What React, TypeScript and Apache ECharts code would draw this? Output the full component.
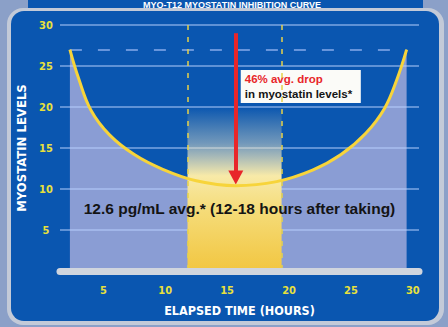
import React, { useEffect, useRef } from "react";
import * as echarts from "echarts";

const timeHours = [2.3, 3.0, 4.0, 5.5, 7.5, 9.8, 12.5, 15.7, 19.0, 21.9, 24.2, 26.2, 27.7, 28.7, 29.5];
const levels = [27, 23.5, 19.6, 16.6, 14.2, 12.4, 11.0, 10.4, 10.9, 12.3, 14.2, 16.8, 19.8, 23.3, 27];
const xTicks = [5, 10, 15, 20, 25, 30];
const yTicks = [5, 10, 15, 20, 25, 30];
const peakLevel = 27;
const windowStart = 11.8;
const windowEnd = 19.4;
const arrowX = 15.7;
const arrowTop = 29;
const arrowBottom = 11.4;
const boxX = [16.1, 25.8];
const boxY = [24.5, 20.5];
const avgLabelPos = [16.0, 7.6];

const NARROW = '"DejaVu Sans Condensed", "Liberation Sans Narrow", "Liberation Sans", sans-serif';
const SANS = '"Liberation Sans", Arial, sans-serif';

export default function App() {
  const ref = useRef<HTMLDivElement>(null);
  useEffect(() => {
    if (!ref.current) return;
    const chart = echarts.init(ref.current, null, { renderer: "svg" });
    const curve = timeHours.map((t, i) => [t, levels[i]]);
    const smooth = 0.4;
    chart.setOption({
      animation: false,
      backgroundColor: "#8ba0c8",
      graphic: [
        { type: "rect", shape: { x: 28, y: 0, width: 395, height: 10 }, style: { fill: "#0a56b0" }, z: -10 },
        {
          type: "text", x: 232, y: 0, z: -9,
          style: { text: "MYO-T12 MYOSTATIN INHIBITION CURVE", fill: "#ffffff", font: `bold 9px ${SANS}`, align: "center", verticalAlign: "top" },
        },
        { type: "rect", shape: { x: 7, y: 8, width: 437, height: 317, r: 16 }, style: { fill: "#c3cad8" }, z: -8 },
        { type: "rect", shape: { x: 11, y: 11, width: 428, height: 310, r: 13 }, style: { fill: "#0a56b0" }, z: -7 },
      ],
      grid: { left: 60, right: 29, top: 25, bottom: 56 },
      xAxis: {
        type: "value", min: 1.5, max: 30.5, z: 6,
        name: "ELAPSED TIME (HOURS)", nameLocation: "middle", nameGap: 33,
        nameTextStyle: { color: "#ffffff", fontFamily: NARROW, fontWeight: "bold", fontSize: 12.5 },
        axisLine: { show: true, onZero: false, lineStyle: { color: "#d0d5de", width: 7 } },
        axisTick: { show: false },
        splitLine: { show: false },
        axisLabel: { customValues: xTicks, color: "#e8e03c", fontFamily: NARROW, fontWeight: "bold", fontSize: 11, margin: 14 },
      },
      yAxis: {
        type: "value", min: 0, max: 30, interval: 5, z: 3,
        name: "MYOSTATIN LEVELS", nameLocation: "middle", nameGap: 20, nameRotate: 90,
        nameTextStyle: { color: "#ffffff", fontFamily: NARROW, fontWeight: "bold", fontSize: 13 },
        axisLine: { show: false },
        axisTick: { show: false },
        splitLine: { lineStyle: { color: "rgba(185,210,255,0.65)", width: 1.5 } },
        axisLabel: { customValues: yTicks, color: "#e8e03c", fontFamily: NARROW, fontWeight: "bold", fontSize: 11, margin: 14, align: "center" },
      },
      series: [
        {
          type: "line", z: 2, data: curve, smooth, symbol: "none",
          lineStyle: { width: 0 },
          areaStyle: { color: "#8a9dd4", opacity: 1 },
        },
        {
          type: "line", z: 4, data: curve, smooth, symbol: "none",
          lineStyle: { width: 0, opacity: 0 },
          markArea: {
            silent: true, z: 4,
            data: [
              [
                {
                  coord: [windowStart, 20],
                  itemStyle: {
                    color: new echarts.graphic.LinearGradient(0, 0, 0, 1, [
                      { offset: 0, color: "rgba(250,240,190,0)" },
                      { offset: 0.22, color: "rgba(240,232,200,0.45)" },
                      { offset: 0.42, color: "#f8eaa8" },
                      { offset: 0.62, color: "#f5dc7a" },
                      { offset: 1, color: "#f2c640" },
                    ]),
                  },
                },
                { coord: [windowEnd, 0] },
              ],
              [
                {
                  coord: [boxX[0], boxY[0]],
                  itemStyle: { color: "#fbfbf8" },
                  label: {
                    show: true, position: "insideLeft", distance: 4,
                    formatter: "{r|46% avg. drop}\n{b|in myostatin levels*}",
                    rich: {
                      r: { color: "#e8262a", fontFamily: SANS, fontWeight: "bold", fontSize: 11.5, lineHeight: 15 },
                      b: { color: "#141414", fontFamily: SANS, fontWeight: "bold", fontSize: 11.5, lineHeight: 15 },
                    },
                  },
                },
                { coord: [boxX[1], boxY[1]] },
              ],
            ],
          },
          markPoint: {
            silent: true, symbol: "circle", symbolSize: 0, z: 6,
            data: [
              {
                coord: avgLabelPos,
                label: {
                  show: true, position: "inside",
                  formatter: "12.6 pg/mL avg.* (12-18 hours after taking)",
                  color: "#141414", fontFamily: SANS, fontWeight: "bold", fontSize: 15.5,
                },
              },
            ],
          },
        },
        {
          type: "line", z: 5, data: curve, smooth, symbol: "none",
          lineStyle: { color: "#f7d43a", width: 3 },
          markLine: {
            silent: true, symbol: "none", z: 5,
            label: { show: false },
            data: [
              [{ coord: [timeHours[0], peakLevel], lineStyle: { color: "#86aaea", width: 1.5, type: [12, 16] } }, { coord: [timeHours[timeHours.length - 1], peakLevel] }],
              [{ coord: [windowStart, 30], lineStyle: { color: "#e6d24a", width: 1.5, type: [5, 7] } }, { coord: [windowStart, 0] }],
              [{ coord: [windowEnd, 30], lineStyle: { color: "#e6d24a", width: 1.5, type: [5, 7] } }, { coord: [windowEnd, 0] }],
              [
                { coord: [arrowX, arrowTop], symbol: "none", lineStyle: { color: "#e8262a", width: 4, type: "solid" } },
                { coord: [arrowX, arrowBottom], symbol: "triangle", symbolSize: [15, 14], symbolRotate: 180, itemStyle: { color: "#e8262a" } },
              ],
            ],
          },
        },
      ],
    });
    return () => chart.dispose();
  }, []);
  return <div ref={ref} style={{ position: "fixed", left: 0, top: 0, width: 448, height: 327 }} />;
}
